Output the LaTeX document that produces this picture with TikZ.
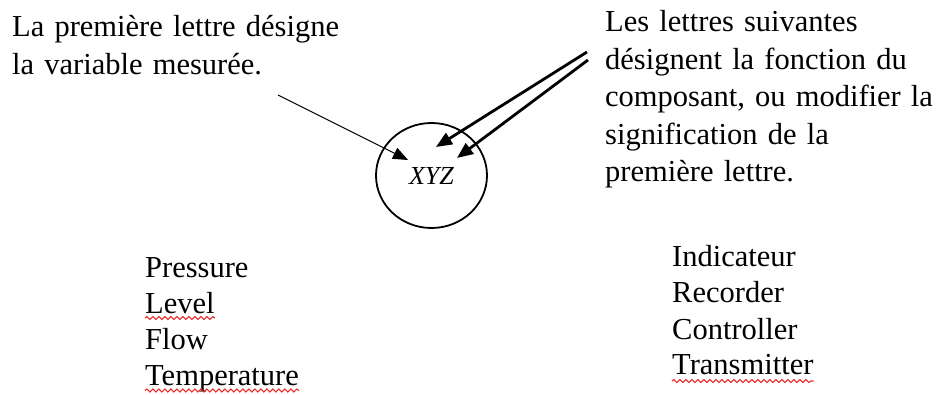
\documentclass[tikz,border=0pt]{standalone}
\usepackage{fontspec}
\setmainfont{Liberation Serif}
\usetikzlibrary{arrows.meta,decorations.pathmorphing,shapes.geometric}
\definecolor{spellred}{RGB}{235,40,40}
\begin{document}
\begin{tikzpicture}[x=1pt,y=-1pt,
  txt/.style={font=\fontsize{30.5}{37.5}\selectfont, inner sep=0pt, anchor=base west, align=left},
  para/.style={txt, text width=#1},
  squig/.style={draw=spellred, line width=1.1pt, decorate, decoration={snake, amplitude=1.5pt, segment length=6pt}},
  thinarrow/.style={-{Triangle[length=15pt,width=12pt]}, line width=1.1pt},
  thickarrow/.style={-{Triangle[length=16pt,width=13pt]}, line width=2.8pt}
]
\useasboundingbox (0,0) rectangle (946,395);

% texts
\node[para=345pt] (left) at (12,37) {La première lettre désigne\\la variable mesurée.};
\node[para=335pt] (right) at (605,32) {Les lettres suivantes\\désignent la fonction du\\composant, ou modifier la\\signification de la\\première lettre.};

% circle
\node[draw, ellipse, line width=1.8pt, minimum width=111pt, minimum height=105pt, inner sep=0pt,
      font=\fontsize{26}{26}\selectfont\itshape] (c) at (431.5,175.5) {XYZ};

% arrows
\coordinate (t1) at (278,95);  \coordinate (h1) at (408,160);
\coordinate (t2) at (587,52);  \coordinate (h2) at (436,147);
\coordinate (t3) at (588,60);  \coordinate (h3) at (457,158);
\draw[thinarrow] (t1) -- (h1);
\draw[thickarrow] (t2) -- (h2);
\draw[thickarrow] (t3) -- (h3);

% left list
\node[txt] (p) at (145,278) {Pressure};
\node[txt] (l) at (145,314) {Level};
\node[txt] (f) at (145,350) {Flow};
\node[txt] (te) at (145,386) {Temperature};

% right list
\node[txt] (i) at (672,267) {Indicateur};
\node[txt] (r) at (672,303) {Recorder};
\node[txt] (co) at (672,340) {Controller};
\node[txt] (tr) at (672,375) {Transmitter};

% spell-check underlines
\draw[squig] ([yshift=-4pt]l.base west) -- ([yshift=-4pt]l.base east);
\draw[squig] ([yshift=-4.5pt]te.base west) -- ([yshift=-4.5pt]te.base east);
\draw[squig] ([yshift=-6pt]tr.base west) -- ([yshift=-6pt]tr.base east);
\end{tikzpicture}
\end{document}
